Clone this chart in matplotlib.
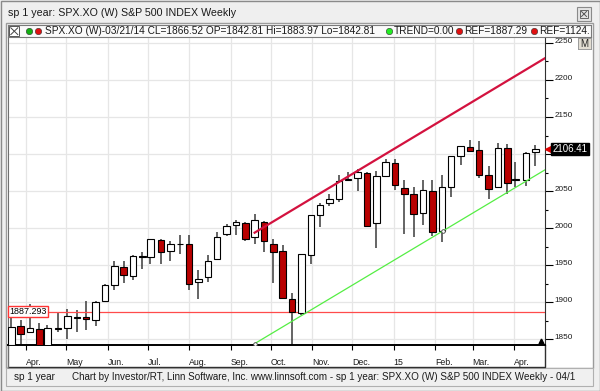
import numpy as np, pandas as pd, matplotlib
matplotlib.use("Agg"); import matplotlib.pyplot as plt
import matplotlib.dates as mdates
from matplotlib.patches import Rectangle
from matplotlib.transforms import blended_transform_factory

plt.rcParams['font.family'] = ['Liberation Sans', 'DejaVu Sans']

# weekly candles (friday dates)
dates = ["2014-03-21","2014-03-28","2014-04-04","2014-04-11","2014-04-17","2014-04-25",
         "2014-05-02","2014-05-09","2014-05-16","2014-05-23","2014-05-30",
         "2014-06-06","2014-06-13","2014-06-20","2014-06-27",
         "2014-07-03","2014-07-11","2014-07-18","2014-07-25",
         "2014-08-01","2014-08-08","2014-08-15","2014-08-22","2014-08-29",
         "2014-09-05","2014-09-12","2014-09-19","2014-09-26",
         "2014-10-03","2014-10-10","2014-10-17","2014-10-24","2014-10-31",
         "2014-11-07","2014-11-14","2014-11-21","2014-11-28",
         "2014-12-05","2014-12-12","2014-12-19","2014-12-26",
         "2015-01-02","2015-01-09","2015-01-16","2015-01-23","2015-01-30",
         "2015-02-06","2015-02-13","2015-02-20","2015-02-27",
         "2015-03-06","2015-03-13","2015-03-20","2015-03-27",
         "2015-04-02","2015-04-10","2015-04-17"]
opens  = [1842.8,1867.7,1859.2,1863.9,1816.0,1865.8,1865.4,1879.5,1880.0,1876.7,1902.0,
          1923.9,1948.0,1934.8,1962.0,1961.0,1984.0,1969.0,1978.7,1978.0,1927.7,1933.7,1959.0,1992.0,
          2004.0,2006.5,1987.6,2008.7,1978.6,1969.6,1905.0,1885.6,1963.8,2018.2,2033.5,2039.0,2065.0,
          2067.3,2074.8,2006.5,2070.4,2087.5,2054.6,2045.7,2020.8,2050.5,1996.7,2055.0,2097.6,2109.1,
          2105.2,2072.3,2055.4,2107.8,2064.9,2065.0,2102.4]
highs  = [1884.0,1875.9,1897.3,1872.4,1869.6,1884.9,1891.3,1889.1,1902.2,1901.3,1924.0,
          1955.6,1955.6,1963.9,1968.2,1985.6,1985.0,1983.0,1991.0,1991.4,1943.5,1964.0,1994.8,2005.0,
          2011.5,2008.0,2019.3,2010.0,1985.2,1977.4,1912.0,1965.3,2018.2,2034.3,2046.2,2071.5,2075.8,
          2079.5,2075.8,2077.3,2092.7,2093.6,2064.4,2056.0,2064.6,2065.0,2072.4,2097.0,2110.6,2119.6,
          2117.5,2083.5,2114.9,2114.0,2088.9,2102.6,2112.0]
lows   = [1842.8,1839.6,1859.2,1814.4,1815.8,1859.7,1850.6,1859.8,1862.4,1868.2,1902.0,
          1915.9,1925.8,1930.0,1944.7,1952.0,1952.0,1955.0,1965.0,1916.0,1904.8,1928.0,1958.0,1990.0,
          1990.7,1983.0,1978.5,1968.2,1926.0,1905.0,1820.7,1883.0,1951.6,2001.0,2030.0,2035.0,2064.0,
          2050.5,2002.3,1972.6,2069.0,2052.0,1992.4,1987.6,2004.5,1989.2,1980.9,2041.9,2085.4,2103.2,
          2067.3,2039.7,2055.4,2045.8,2056.0,2057.1,2084.0]
closes = [1866.5,1857.6,1865.1,1815.7,1864.9,1863.4,1881.1,1878.5,1877.9,1900.5,1923.6,
          1949.4,1936.2,1962.9,1961.0,1985.4,1967.6,1978.2,1978.3,1925.2,1931.6,1955.1,1988.4,2003.4,
          2007.7,1985.5,2010.4,1982.9,1967.9,1906.1,1886.8,1964.6,2018.1,2031.9,2039.8,2063.5,2066.0,
          2075.4,2002.3,2070.7,2088.8,2058.2,2046.0,2019.4,2051.8,1995.0,2055.5,2097.0,2110.3,2104.5,
          2071.3,2053.4,2108.1,2061.0,2067.0,2102.1,2106.4]

# trend channel and reference line
red_dates, red_vals = ["2014-09-19","2015-04-24"], [1993.9,2229.2]
green_dates, green_vals = ["2014-09-19","2015-04-24"], [1844.1,2078.5]
green_pts_dates, green_pts_vals = ["2014-09-19","2015-02-07"], [1844.1,1996.5]
ref_level = 1887.29
last_val = 2106.41

month_ticks = ["2014-04-01","2014-05-01","2014-06-01","2014-07-01","2014-08-01","2014-09-01",
               "2014-10-01","2014-11-01","2014-12-01","2015-01-01","2015-02-01","2015-03-01","2015-04-01"]
month_labels = ["Apr.","May","Jun.","Jul.","Aug.","Sep.","Oct.","Nov.","Dec.","15","Feb.","Mar.","Apr."]
y_major = np.arange(1850, 2251, 50)
y_minor = np.arange(1875, 2251, 50)
# the 2100 label sits under the last-price box
y_labels = ["1850","1900","1950","2000","2050","","2150","2200","2250"]

W, H = 600, 391
def box(x0, y0, x1, y1):
    return [x0/W, 1-y1/H, (x1-x0)/W, (y1-y0)/H]

fig = plt.figure(figsize=(6, 3.91), dpi=100, facecolor='#ececec')

# window chrome in pixel coordinates
bg = fig.add_axes([0, 0, 1, 1], zorder=-1); bg.set_xlim(0, W); bg.set_ylim(H, 0); bg.axis('off')
bg.add_patch(Rectangle((0.5, 0.5), W-1, H-1, fc='#efefef', ec='#8a8a8a', lw=1))
bg.add_patch(Rectangle((6, 23), 587, 345, fc='white', ec='#9c9c9c', lw=1))
bg.text(8, 13.5, "sp 1 year: SPX.XO (W) S&P 500 INDEX Weekly", fontsize=7.7, va='center', color='#1a1a1a')
bg.add_patch(Rectangle((577, 7), 14, 14, fc='#e4e4e4', ec='#8a8a8a', lw=0.8))
bg.add_patch(Rectangle((580, 10), 8, 8, fc='none', ec='#666666', lw=0.7))
bg.plot([581.5, 586.5], [11.5, 16.5], color='#555555', lw=0.7)
bg.plot([581.5, 586.5], [16.5, 11.5], color='#555555', lw=0.7)
bg.plot([8, 545, 545], [367, 367, 345], color='#303030', lw=1)
bg.plot([8, 8], [345, 367], color='#707070', lw=1)
bg.add_patch(Rectangle((6, 368), 587, 18, fc='#f0f0f0', ec='#b0b0b0', lw=0.8))
bg.text(14, 377.5, "sp 1 year", fontsize=7.2, va='center', color='#1a1a1a')
bg.text(72, 377.5, "Chart by Investor/RT, Linn Software, Inc. www.linnsoft.com - sp 1 year: "
        "SPX.XO (W) S&P 500 INDEX Weekly - 04/1", fontsize=7.1, va='center', color='#1a1a1a')

# main price panel
ax = fig.add_axes(box(8, 37, 545, 345))
x = mdates.date2num(pd.to_datetime(dates))
o, h, l, c = map(np.array, (opens, highs, lows, closes))
up = c >= o
ax.vlines(x, l, h, colors='#3a3a3a', lw=1.1, zorder=2)
ax.bar(x, np.maximum(np.abs(c-o), 0.3), bottom=np.minimum(o, c), width=4.9,
       color=np.where(up, 'white', '#b80000'), edgecolor='black', linewidth=0.8, zorder=3)

ax.plot(mdates.date2num(pd.to_datetime(red_dates)), red_vals, color='#d3123f', lw=1.6, zorder=4)
ax.plot(mdates.date2num(pd.to_datetime(green_dates)), green_vals, color='#55ee44', lw=0.9, zorder=4)
ax.plot(mdates.date2num(pd.to_datetime(green_pts_dates)), green_pts_vals, 'o', ms=2.6,
        mfc='white', mec='#444444', mew=0.6, zorder=5)
ax.axhline(ref_level, color='#ff4b4b', lw=0.9, zorder=2)

tr = blended_transform_factory(ax.transAxes, ax.transData)
ax.text(0.003, ref_level, "1887.293", transform=tr, ha='left', va='center', fontsize=6.4, zorder=6,
        bbox=dict(boxstyle='square,pad=0.15', fc='white', ec='#ff3535', lw=1))
ax.plot([1.006], [last_val], marker='<', color='#e00000', ms=5, transform=tr, clip_on=False, zorder=6)
ax.text(1.014, last_val, "2106.41", transform=tr, ha='left', va='center', fontsize=7, color='white',
        zorder=6, clip_on=False, bbox=dict(boxstyle='square,pad=0.12', fc='black', ec='black'))
ax.plot([0.993], [0.012], marker='^', color='black', ms=3.5, transform=ax.transAxes, clip_on=False)

ax.set_xlim(mdates.date2num(pd.Timestamp("2014-03-18 12:00")), mdates.date2num(pd.Timestamp("2015-04-24 05:00")))
ax.set_ylim(1842.3, 2258)
ax.set_xticks(mdates.date2num(pd.to_datetime(month_ticks)))
ax.set_xticklabels(month_labels, ha='left', fontsize=6.3, color='#1a1a1a')
ax.tick_params(axis='x', length=3.6, width=0.8, pad=6, color='black')
ax.yaxis.tick_right()
ax.set_yticks(y_major)
ax.set_yticks(y_minor, minor=True)
ax.set_yticklabels(y_labels, fontsize=5.9, color='#1a1a1a')
ax.tick_params(axis='y', which='major', length=5.8, width=0.8, pad=1.2)
ax.tick_params(axis='y', which='minor', length=2.2, width=0.8)
for lab in ax.get_yticklabels():
    lab.set_verticalalignment('baseline')
ax.grid(True, color='#e6e6e6', lw=0.9)
ax.set_axisbelow(True)
ax.spines['top'].set_visible(False)
ax.spines['left'].set_color('#707070')
ax.spines['bottom'].set_linewidth(1.4)
ax.spines['right'].set_color('#303030')

# info bar on top (covers the clipped 2250 label)
info = fig.add_axes(box(8, 25, 591, 37))
info.set_xlim(8, 591); info.set_ylim(37, 25)
info.set_xticks([]); info.set_yticks([])
info.set_facecolor('#fafafa')
for s in info.spines.values():
    s.set_color('#7a7a7a'); s.set_linewidth(0.8)
info.add_patch(Rectangle((9.3, 26.3), 10, 9.7, fc='white', ec='#555555', lw=0.7))
info.plot([10.8, 17.8], [27.8, 34.6], color='#444444', lw=0.7)
info.plot([10.8, 17.8], [34.6, 27.8], color='#444444', lw=0.7)
for px, col in [(29.3, '#12b012'), (38.3, '#e01010'), (389, '#22ee22'), (459, '#e01010'), (534, '#e01010')]:
    info.plot([px], [31.3], 'o', ms=4.6, mfc=col, mec='#303030', mew=0.4)
kw = dict(fontsize=7.3, va='center', color='#1a1a1a', clip_on=True)
info.text(45, 31.3, "SPX.XO (W)-03/21/14 CL=1866.52 OP=1842.81 Hi=1883.97 Lo=1842.81", **kw)
info.text(394, 31.3, "TREND=0.00", **kw)
info.text(464, 31.3, "REF=1887.29", **kw)
info.text(539, 31.3, "REF=1124.", **kw)

# "M" button
mb = fig.add_axes(box(578, 38, 591, 49))
mb.set_xticks([]); mb.set_yticks([]); mb.set_facecolor('#e2ddd2')
for s in mb.spines.values():
    s.set_color('#9a9a9a'); s.set_linewidth(0.7)
mb.text(0.5, 0.45, "M", ha='center', va='center', fontsize=7, transform=mb.transAxes, color='#222222')

fig.savefig("out.png", dpi=100, facecolor=fig.get_facecolor())
